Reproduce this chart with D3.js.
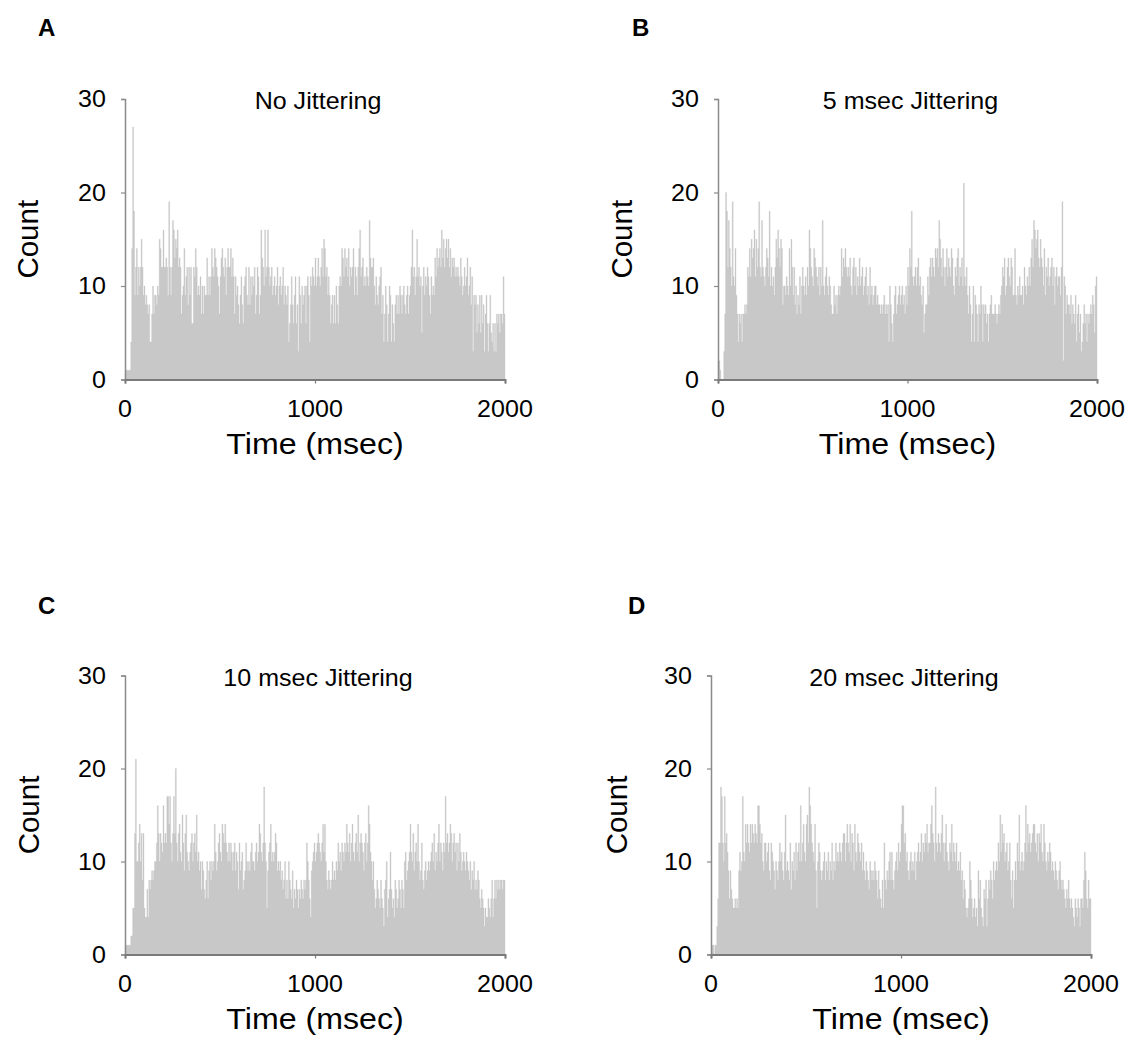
<!DOCTYPE html>
<html>
<head>
<meta charset="utf-8">
<script src="https://cdn.jsdelivr.net/npm/d3@7"></script>
<style>
  body { margin: 0; background: #fff; }
  svg text { font-family: Arial, "Liberation Sans", Helvetica, sans-serif; fill: #000; }
</style>
</head>
<body>
<svg id="fig" width="1138" height="1041"></svg>
<script>
// Spike-count histograms, 5 msec bins from 0 to 2000 msec

const binMs = 5;
const xTicks = [0, 1000, 2000];
const yTicks = [0, 10, 20, 30];
const letters = ['A', 'B', 'C', 'D'];
const titles = ['No Jittering', '5 msec Jittering', '10 msec Jittering', '20 msec Jittering'];

const countsA = [
  1,1,1,1,1,1,4,14,27,18, 9,12,14,9,12,10,12,15,12,9, 10,8,9,8,7,8,4,4,7,10, 7,9,9,8,10,9,15,14,12,12,
  16,12,12,13,12,9,19,12,9,12, 17,16,13,15,14,16,12,13,12,7, 9,10,14,9,11,12,8,12,9,12, 6,6,12,11,14,12,9,10,9,11,
  7,10,7,10,9,9,13,9,11,9, 11,14,12,11,14,13,12,11,10,7, 11,13,14,12,11,13,9,12,14,12, 12,14,11,13,11,7,11,9,10,8,
  6,9,11,8,6,10,11,12,9,8, 12,8,11,9,11,10,12,7,9,12, 11,7,9,16,13,12,10,16,11,12, 16,12,10,11,12,9,10,11,9,10,
  12,8,10,11,9,10,12,8,10,9, 8,10,4,6,8,11,8,6,9,11, 6,8,3,11,9,6,10,8,9,10, 6,10,11,9,4,11,10,12,11,10,
  13,10,11,13,11,10,12,14,11,15, 14,11,12,9,11,9,6,8,9,6, 9,6,10,8,6,10,11,10,14,13, 11,14,12,13,11,14,10,12,11,12,
  14,9,12,11,9,12,14,16,11,12, 13,10,11,10,12,11,10,17,13,12, 12,13,10,8,11,9,8,10,11,12, 7,9,4,7,10,8,4,7,10,9,
  4,8,6,4,8,9,7,9,7,10, 9,7,9,10,8,7,9,10,7,9, 10,12,16,11,12,9,11,15,11,12, 10,11,5,10,12,9,11,10,12,11,
  9,7,11,9,10,9,13,11,14,12, 13,14,12,16,13,15,12,14,15,13, 15,12,14,11,13,12,13,11,12,11, 12,11,10,13,11,9,10,12,10,11,
  13,9,10,12,8,11,3,9,8,9, 5,8,6,9,5,9,6,8,3,7, 9,6,3,6,9,5,4,6,3,6, 3,7,6,7,5,7,7,6,11,7
];

const countsB = [
  2,2,1,0,0,0,3,7,20,18, 12,17,14,12,10,19,11,10,14,9, 7,4,7,6,7,4,7,7,8,7, 8,12,11,14,11,15,13,14,16,11,
  15,12,14,19,12,11,17,12,11,10, 12,14,13,11,18,10,12,10,11,9, 12,15,13,16,14,12,15,14,8,10, 10,9,11,10,9,14,10,15,12,9,
  12,8,10,7,9,8,11,7,10,12, 10,9,11,9,12,10,16,14,12,11, 10,14,13,12,11,10,12,9,12,10, 17,10,9,11,12,10,9,11,10,8,
  7,7,10,8,9,7,9,10,9,10, 14,11,13,12,14,12,11,12,11,13, 10,9,12,13,10,12,9,11,10,13, 10,11,12,9,10,11,12,9,10,8,
  12,9,10,8,9,10,10,8,9,8, 8,7,8,7,8,9,7,8,7,8, 4,10,8,6,4,7,9,10,7,8, 9,10,8,9,10,8,9,7,10,8,
  12,10,14,12,18,11,10,11,12,10, 12,13,10,11,9,8,10,5,7,8, 8,11,9,12,13,11,13,12,11,14, 13,14,12,17,15,13,11,14,12,10,
  12,14,11,13,12,11,14,13,10,9, 12,11,13,14,10,12,11,13,10,21, 11,10,12,9,7,10,8,4,7,10, 4,9,8,7,4,8,7,10,8,4,
  8,7,8,6,7,4,7,8,9,7, 7,7,8,7,6,7,8,7,9,10, 12,11,13,9,10,12,13,11,10,13, 12,9,9,14,9,8,10,9,11,9,
  9,10,8,12,10,9,11,10,12,10, 13,15,12,17,16,14,15,16,13,12, 15,13,12,10,14,9,12,11,13,10, 11,12,13,10,12,8,11,12,10,11,
  11,9,12,19,2,11,10,7,9,8, 8,7,9,6,8,7,6,9,4,7, 8,5,7,3,4,6,8,6,7,4, 7,6,7,8,7,9,8,5,10,11
];

const countsC = [
  1,1,1,1,1,1,2,2,5,5, 13,21,10,10,12,14,10,13,8,13, 5,4,4,7,4,8,7,8,9,8, 9,10,10,12,16,13,10,13,12,11,
  16,12,13,12,17,17,14,17,12,10, 13,17,13,20,12,10,13,14,11,10, 15,12,9,13,15,11,10,9,11,12, 13,10,12,13,11,15,10,11,9,10,
  7,10,9,7,6,8,10,6,9,10, 8,10,9,10,14,11,9,10,12,13, 11,10,14,13,12,14,12,11,10,12, 10,12,11,9,11,12,9,11,10,7,
  12,9,10,11,7,8,9,12,10,9, 10,9,11,12,10,10,9,11,12,10, 11,14,13,11,10,12,18,12,10,5, 9,11,12,14,10,11,10,11,13,12,
  9,10,9,10,8,9,7,8,10,6, 8,6,10,8,7,6,9,5,7,6, 8,7,5,7,6,8,7,6,8,7, 8,12,10,8,6,4,9,10,11,12,
  10,11,12,13,12,11,10,12,14,11, 14,10,8,7,9,8,7,8,10,8, 9,8,10,9,12,10,11,9,12,11, 10,12,11,14,12,11,13,10,12,14,
  11,10,12,13,11,15,10,12,13,12, 11,9,12,13,10,12,16,14,11,10, 8,10,7,5,6,8,7,6,5,8, 6,5,3,7,8,10,4,6,7,11,
  7,5,6,4,8,7,5,6,8,7, 5,8,7,5,10,11,8,9,10,11, 14,11,10,13,9,11,12,10,14,10, 8,9,12,8,7,9,10,8,9,10,
  9,10,11,12,10,13,9,11,10,12, 14,10,12,11,9,12,11,17,12,13, 11,12,14,13,10,12,13,11,12,9, 12,10,13,11,9,10,11,10,9,11,
  10,9,8,10,7,9,8,10,7,8, 7,9,8,6,5,7,6,5,3,5, 4,4,6,5,4,6,8,4,6,8, 6,8,7,8,7,8,8,7,8,8
];

const countsD = [
  0,1,1,0,1,1,3,6,12,12, 18,17,12,10,17,12,13,11,9,6, 9,7,6,5,5,6,5,6,5,9, 11,9,10,17,11,10,14,12,14,12,
  11,14,12,14,13,12,14,13,12,16, 16,14,12,13,10,9,12,12,10,11, 12,9,8,12,11,10,9,7,10,9, 8,10,12,10,11,9,8,11,15,9,
  10,9,8,12,7,10,9,11,8,12, 9,11,12,10,16,10,12,14,11,10, 14,15,12,18,16,14,12,11,10,14, 9,5,10,12,11,9,8,9,10,11,
  8,10,9,11,8,10,9,12,8,10, 9,12,10,11,10,12,11,10,12,13, 13,10,12,14,12,11,14,10,13,12, 9,14,11,10,13,12,11,10,12,9,
  11,9,8,10,9,8,7,10,9,8, 9,8,10,9,8,6,9,7,6,5, 8,5,12,8,7,9,8,10,11,8, 11,8,7,9,10,11,9,12,10,11,
  14,16,16,12,13,10,11,9,8,10, 11,9,10,9,11,8,10,11,12,10, 11,13,10,12,11,13,12,14,11,12, 12,14,16,13,12,10,18,12,11,13,
  12,11,13,15,12,10,12,14,11,10, 9,12,11,14,10,12,11,10,12,9, 10,9,11,8,9,6,8,7,5,4, 5,6,10,8,6,4,5,6,4,5,
  3,9,6,8,5,4,3,7,6,8, 3,6,8,7,9,8,6,10,8,9, 10,9,12,10,15,11,14,12,13,10, 11,12,9,10,12,8,6,9,5,8,
  10,8,12,10,15,9,10,11,9,10, 12,16,11,14,12,13,11,12,13,14, 14,12,11,13,10,13,12,14,11,10, 14,12,10,9,11,10,12,11,9,10,
  9,8,10,9,8,7,9,10,8,7, 8,7,6,5,7,6,8,6,5,6, 5,4,3,6,5,4,6,5,3,6, 6,5,8,11,9,6,5,8,6,6
];

const seriesList = [countsA, countsB, countsC, countsD];

// panel frames in page pixels
const frames = [
  { x0: 125, x1: 505, y0: 379.5, y1: 99, lx: 38, ly: 36, cx: 28 },
  { x0: 718, x1: 1097, y0: 379.5, y1: 99, lx: 632, ly: 36, cx: 622 },
  { x0: 125, x1: 505, y0: 954.5, y1: 675.5, lx: 38, ly: 614, cx: 29 },
  { x0: 711, x1: 1091, y0: 954.5, y1: 675.5, lx: 628, ly: 614, cx: 617 }
];

// text in the source figure is a little wider than it is tall
const stretch = 1.09;

const svg = d3.select('#fig');

function label(parent, x, y, txt, size, anchor, extra) {
  const t = parent.append('text')
    .attr('transform', `translate(${x},${y}) ${extra || ''} scale(${stretch},1)`)
    .attr('text-anchor', anchor)
    .attr('font-size', size)
    .text(txt);
  return t;
}

frames.forEach((f, k) => {
  const counts = seriesList[k];
  const bins = counts.map((c, i) => ({ t: i * binMs, c }));
  bins.push({ t: counts.length * binMs, c: counts[counts.length - 1] });

  const x = d3.scaleLinear().domain([0, 2000]).range([f.x0, f.x1]);
  const y = d3.scaleLinear().domain([0, 30]).range([f.y0, f.y1]);

  const g = svg.append('g');

  // histogram as one stepped area, so neighbouring bins leave no seams
  const area = d3.area()
    .curve(d3.curveStepAfter)
    .x(d => x(d.t))
    .y0(y(0))
    .y1(d => y(d.c));

  g.append('path')
    .datum(bins)
    .attr('d', area)
    .attr('fill', '#c8c8c8')
    .attr('stroke', '#c0c0c0')
    .attr('stroke-width', 0.3);

  // y axis
  const ya = g.append('g')
    .attr('transform', `translate(${f.x0},0)`)
    .call(d3.axisLeft(y).tickValues(yTicks).tickSize(4).tickPadding(14));
  ya.select('.domain').attr('stroke', '#8a8a8a').attr('stroke-width', 1.5);
  ya.selectAll('.tick line').attr('stroke', '#8a8a8a').attr('stroke-width', 1.2);
  ya.selectAll('.tick text').remove();
  yTicks.forEach(v => label(ya, -19, y(v) + 8, v, 23, 'end'));

  // x axis
  const xa = g.append('g')
    .attr('transform', `translate(0,${f.y0})`)
    .call(d3.axisBottom(x).tickValues(xTicks).tickSize(4).tickPadding(16));
  xa.select('.domain').attr('stroke', '#7a7a7a').attr('stroke-width', 2);
  xa.selectAll('.tick line').attr('stroke', '#7a7a7a').attr('stroke-width', 1.2);
  xa.selectAll('.tick text').remove();
  xTicks.forEach(v => label(xa, x(v), 37, v, 23, 'middle'));

  // titles and labels
  label(g, (f.x0 + f.x1) / 2 + 3, f.y1 + 10, titles[k], 23, 'middle');
  label(g, (f.x0 + f.x1) / 2, f.y0 + 74, 'Time (msec)', 29.5, 'middle');

  g.append('text')
    .attr('transform', `translate(${f.cx + 10},${(f.y0 + f.y1) / 2}) rotate(-90)`)
    .attr('text-anchor', 'middle')
    .attr('font-size', 29.5)
    .text('Count');

  g.append('text')
    .attr('x', f.lx)
    .attr('y', f.ly)
    .attr('font-size', 24)
    .attr('font-weight', 'bold')
    .text(letters[k]);
});
</script>
</body>
</html>
